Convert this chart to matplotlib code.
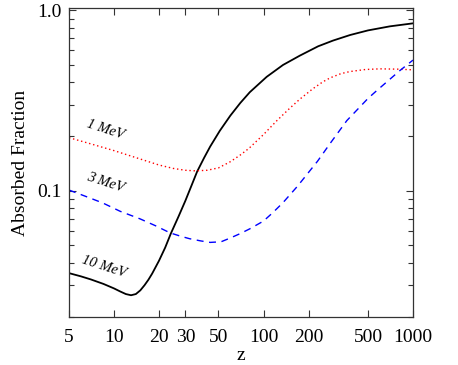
import matplotlib
matplotlib.use("Agg")
import matplotlib.pyplot as plt
from matplotlib.ticker import FixedLocator, FixedFormatter, NullLocator, LogLocator, NullFormatter

plt.rcParams['font.family'] = ['Liberation Serif', 'DejaVu Serif']

# 10 MeV (black, solid)
z_10 = [5, 6, 7, 8.5, 10, 11, 12, 13, 14, 15, 16, 17, 18, 20, 22, 24, 27, 30, 33, 36, 40, 44, 51, 60, 70, 81, 105, 135, 175, 232, 292, 380, 500, 700, 1000]
f_10 = [0.035, 0.0336, 0.0323, 0.0305, 0.0288, 0.0277, 0.0268, 0.0264, 0.0268, 0.0281, 0.030, 0.0322, 0.0348, 0.041, 0.0485, 0.058, 0.072, 0.088, 0.107, 0.128, 0.152, 0.176, 0.215, 0.261, 0.307, 0.352, 0.428, 0.498, 0.561, 0.632, 0.680, 0.730, 0.774, 0.815, 0.847]

# 1 MeV (red, dotted)
z_1 = [5, 7, 10, 15, 20, 25, 30, 35, 42, 50, 60, 70, 80, 100, 123, 150, 175, 214, 250, 280, 330, 379, 480, 600, 800, 1000]
f_1 = [0.197, 0.182, 0.167, 0.150, 0.139, 0.133, 0.130, 0.129, 0.130, 0.134, 0.145, 0.158, 0.172, 0.205, 0.245, 0.287, 0.322, 0.368, 0.402, 0.423, 0.446, 0.458, 0.470, 0.474, 0.472, 0.468]

# 3 MeV (blue, dashed)
z_3 = [5, 6.5, 8.4, 11, 14.9, 19, 23.7, 28, 32, 38, 44, 52, 60, 70, 81, 100, 116, 135, 167, 181, 230, 279, 361, 500, 574, 700, 818, 1000]
f_3 = [0.101, 0.093, 0.0857, 0.077, 0.070, 0.064, 0.0585, 0.056, 0.0543, 0.0528, 0.0518, 0.0522, 0.0548, 0.058, 0.0616, 0.068, 0.076, 0.086, 0.105, 0.114, 0.146, 0.183, 0.245, 0.325, 0.36, 0.415, 0.464, 0.53]

x_ticks = [5, 10, 20, 30, 50, 100, 200, 500, 1000]
x_tick_labels = ['5', '10', '20', '30', '50', '100', '200', '500', '1000']
y_ticks = [0.1, 1.0]
y_tick_labels = ['0.1', '1.0']

fig = plt.figure(figsize=(4.58, 3.65), dpi=100)
ax = fig.add_axes([69/458, 48/365, 344/458, 309/365])

ax.plot(z_10, f_10, color='black', lw=1.3, ls='-')
ax.plot(z_1, f_1, color='red', lw=1.0, ls=(0, (1, 2)))
ax.plot(z_3, f_3, color='blue', lw=1.0, ls=(0, (5, 4)))

ax.set_xscale('log')
ax.set_yscale('log')
ax.set_xlim(5, 1000)
ax.set_ylim(0.02, 1.03)

ax.xaxis.set_major_locator(FixedLocator(x_ticks))
ax.xaxis.set_major_formatter(FixedFormatter(x_tick_labels))
ax.xaxis.set_minor_locator(NullLocator())
ax.yaxis.set_major_locator(FixedLocator(y_ticks))
ax.yaxis.set_major_formatter(FixedFormatter(y_tick_labels))
ax.yaxis.set_minor_locator(LogLocator(base=10, subs=[2, 3, 4, 5, 6, 7, 8, 9]))
ax.yaxis.set_minor_formatter(NullFormatter())

ax.tick_params(which='both', direction='in', top=True, right=True, labelsize=14, width=0.8, color='#333333')
ax.tick_params(which='major', length=5)
ax.tick_params(which='minor', length=3.5)
ax.tick_params(axis='x', pad=9)
ax.tick_params(axis='y', pad=5)
for s in ax.spines.values():
    s.set_linewidth(0.9)
    s.set_color('#333333')

ax.set_xlabel('z', fontsize=14, labelpad=0)
ax.set_ylabel('Absorbed Fraction', fontsize=14, labelpad=6)

ax.text(0.107, 0.605, '1 MeV', transform=ax.transAxes, rotation=-18, fontsize=10.5, style='italic', ha='center', va='center')
ax.text(0.105, 0.434, '3 MeV', transform=ax.transAxes, rotation=-18, fontsize=10.5, style='italic', ha='center', va='center')
ax.text(0.102, 0.162, '10 MeV', transform=ax.transAxes, rotation=-18, fontsize=10.5, style='italic', ha='center', va='center')

fig.savefig('out.png', dpi=100)
